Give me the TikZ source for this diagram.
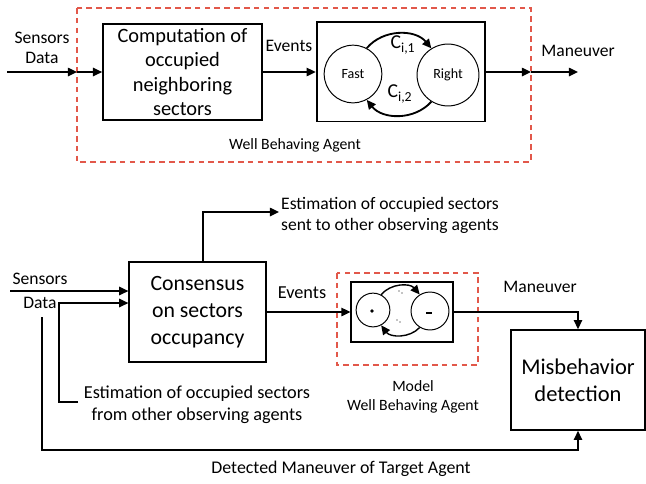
\documentclass[tikz,border=0pt]{standalone}
\usepackage{fontspec}
\setmainfont{Carlito}
\usetikzlibrary{arrows.meta,positioning}
\definecolor{agentred}{RGB}{226,88,74}

\begin{document}
\begin{tikzpicture}[x=0.025cm,y=-0.025cm,
  >={Triangle[length=6.5pt,width=6pt]},
  blk/.style={draw,line width=1.3pt,align=center,inner sep=0pt},
  agentbox/.style={draw=agentred,dashed,line width=1.1pt,dash pattern=on 4pt off 3pt},
  state/.style={draw,circle,inner sep=0pt,line width=0.7pt},
  lbl/.style={align=center,inner sep=0pt,font=\fontsize{12.5}{15}\selectfont},
  wire/.style={line width=1.1pt}]
\useasboundingbox (0,0) rectangle (646,483);

% well behaving agent
\draw[agentbox] (77,8) rectangle (531,162);
\node[blk,minimum width=113pt,minimum height=68pt,font=\fontsize{14.5}{17.2}\selectfont]
  (comp) at (182.5,72) {Computation of\\occupied\\neighboring\\sectors};
\node[blk,minimum width=120pt,minimum height=71pt] (fsm) at (401,71.5) {};
\node[state,minimum size=41pt,font=\fontsize{10}{11}\selectfont] (fast) at (353,74) {Fast};
\node[state,minimum size=44pt,font=\fontsize{10}{11}\selectfont] (right) at (448,75) {Right};
\draw[->,line width=1.3pt] (fast.62) to[bend left=50] (right.122);
\draw[->,line width=1.3pt] (right.238) to[bend left=50] (fast.298);
\node[inner sep=0pt,font=\fontsize{14}{15}\selectfont] (c1) at (403,45) {C\textsubscript{i,1}};
\node[inner sep=0pt,font=\fontsize{14}{15}\selectfont] (c2) at (400,94) {C\textsubscript{i,2}};

\coordinate (sdin) at (7,72);
\coordinate (wbin) at (77,72);
\coordinate (wbout) at (531,72);
\coordinate (manout) at (578,72);
\draw[->,wire] (sdin) -- (wbin);
\draw[->,wire] (wbin) -- (comp);
\draw[->,wire] (comp) -- (fsm.west |- comp);
\draw[->,wire] (fsm.east |- comp) -- (wbout);
\draw[->,wire] (wbout) -- (manout);
\node[lbl,font=\fontsize{12.5}{14.5}\selectfont] (sd1) at (42,48) {Sensors\\Data};
\node[lbl,font=\fontsize{12.5}{14.5}\selectfont] (ev1) at (289,46) {Events};
\node[lbl,font=\fontsize{12.5}{14.5}\selectfont] (man1) at (578,51) {Maneuver};
\node[lbl,font=\fontsize{11.2}{13}\selectfont] (wba) at (295,145) {Well Behaving Agent};

% observer
\node[blk,minimum width=97pt,minimum height=71pt,font=\fontsize{15.5}{19.2}\selectfont]
  (cons) at (197.5,312) {Consensus\\on sectors\\occupancy};
\draw[agentbox] (337,273) rectangle (478,365);
\node[blk,minimum width=72pt,minimum height=42.5pt] (model) at (402,312) {};
\node[state,minimum size=24pt] (mfast) at (373,310) {};
\node[state,minimum size=27pt] (mright) at (430,311) {};
\draw[->,line width=1pt] (mfast.62) to[bend left=50] (mright.122);
\draw[->,line width=1pt] (mright.238) to[bend left=50] (mfast.298);
\fill (372,311) circle (1.3pt);
\draw[line width=1.4pt] (426,313) -- (432,313);
\fill (399,291) circle (0.5pt) (402,293) circle (0.5pt);
\fill (397,320) circle (0.5pt) (400,322) circle (0.5pt);
\node[blk,minimum width=95pt,minimum height=71pt,font=\fontsize{16}{19.2}\selectfont]
  (mis) at (578,380) {Misbehavior\\detection};

\coordinate (sd2) at (10,291);
\coordinate (estin) at (59,303);
\coordinate (est2) at (78,402);
\coordinate (estout) at (279,212);
\coordinate (det) at (42,317);
\coordinate (detc) at (578,450);
\draw[->,wire] (sd2) -- (cons.west |- sd2);
\draw[->,wire] (est2) -| (estin) -- (cons.west |- estin);
\draw[->,wire] ([xshift=4pt]cons.north) |- (estout);
\draw[->,wire] (cons) -- (model);
\draw[->,wire] (model) -| (mis.north);
\draw[->,wire] (det) |- (detc) -- (mis.south);

\node[lbl] (sen2) at (40,279) {Sensors};
\node[lbl] (dat2) at (40,303) {Data};
\node[lbl] (eout) at (390,215) {Estimation of occupied sectors\\sent to other observing agents};
\node[lbl,font=\fontsize{13}{15.5}\selectfont] (ein) at (197,405) {Estimation of occupied sectors\\from other observing agents};
\node[lbl,font=\fontsize{13}{15}\selectfont] (ev2) at (302,293) {Events};
\node[lbl] (man2) at (540,287) {Maneuver};
\node[lbl,font=\fontsize{11.2}{13}\selectfont] (mwba) at (413,397) {Model\\Well Behaving Agent};
\node[lbl,font=\fontsize{12.7}{15}\selectfont] (dman) at (341,469) {Detected Maneuver of Target Agent};
\end{tikzpicture}
\end{document}
